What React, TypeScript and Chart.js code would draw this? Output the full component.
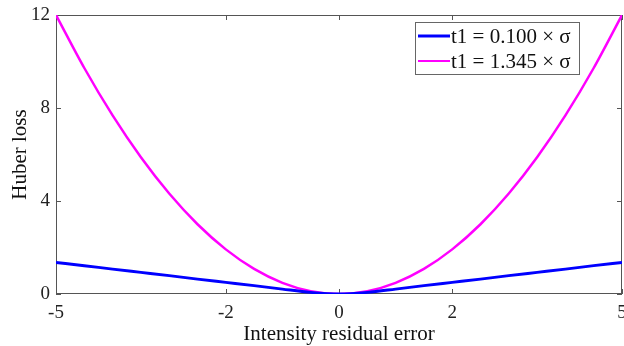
import React, { useEffect, useRef } from "react";
import { Chart, registerables } from "chart.js";

Chart.register(...registerables);

const residuals = [-5, -4.5, -4, -3.5, -3, -2.5, -2, -1.5, -1, -0.5, 0, 0.5, 1, 1.5, 2, 2.5, 3, 3.5, 4, 4.5, 5];
const lossSmall = [1.36, 1.22, 1.07, 0.93, 0.79, 0.64, 0.5, 0.36, 0.21, 0.07, 0, 0.07, 0.21, 0.36, 0.5, 0.64, 0.79, 0.93, 1.07, 1.22, 1.36];
const lossLarge = [12, 9.72, 7.68, 5.88, 4.32, 3.0, 1.92, 1.08, 0.48, 0.12, 0, 0.12, 0.48, 1.08, 1.92, 3.0, 4.32, 5.88, 7.68, 9.72, 12];
const xTicks = [-5, -2, 0, 2, 5];
const yTicks = [0, 4, 8, 12];
const seriesLabels = ["t1 = 0.100 × σ", "t1 = 1.345 × σ"];
const seriesColors = ["#0000ff", "#ff00ff"];

const FONT = "'Liberation Serif', 'Times New Roman', serif";

export default function App() {
  const ref = useRef<HTMLCanvasElement | null>(null);
  useEffect(() => {
    if (!ref.current) return;
    const framePlugin = {
      id: "frame",
      beforeDatasetsDraw(chart: any) {
        const { ctx, chartArea: a, scales } = chart;
        ctx.save();
        ctx.strokeStyle = "#555";
        ctx.lineWidth = 1;
        ctx.strokeRect(a.left + 0.5, a.top + 0.5, a.right - a.left - 1, a.bottom - a.top - 1);
        const L = 5;
        ctx.beginPath();
        for (const t of xTicks) {
          const px = Math.round(scales.x.getPixelForValue(t)) + 0.5;
          ctx.moveTo(px, a.bottom);
          ctx.lineTo(px, a.bottom - L);
          ctx.moveTo(px, a.top);
          ctx.lineTo(px, a.top + L);
        }
        for (const t of yTicks) {
          const py = Math.round(scales.y.getPixelForValue(t)) + 0.5;
          ctx.moveTo(a.left, py);
          ctx.lineTo(a.left + L, py);
          ctx.moveTo(a.right, py);
          ctx.lineTo(a.right - L, py);
        }
        ctx.stroke();
        ctx.restore();
      },
    };
    const legendPlugin = {
      id: "insideLegend",
      afterDraw(chart: any) {
        const { ctx, chartArea: a } = chart;
        ctx.save();
        const bx = a.right - 207, by = a.top + 7, bw = 164, bh = 52;
        ctx.fillStyle = "#fff";
        ctx.fillRect(bx, by, bw, bh);
        ctx.strokeStyle = "#666";
        ctx.lineWidth = 1;
        ctx.strokeRect(bx + 0.5, by + 0.5, bw, bh);
        ctx.font = `21px ${FONT}`;
        ctx.textBaseline = "middle";
        const widths = [3, 2];
        seriesLabels.forEach((lab, i) => {
          const y = by + 14 + i * 25;
          ctx.strokeStyle = seriesColors[i];
          ctx.lineWidth = widths[i];
          ctx.beginPath();
          ctx.moveTo(bx + 3, y);
          ctx.lineTo(bx + 35, y);
          ctx.stroke();
          ctx.fillStyle = "#111";
          ctx.fillText(lab, bx + 36, y + 1);
        });
        ctx.restore();
      },
    };
    const chart = new Chart(ref.current, {
      type: "line",
      data: {
        datasets: [
          {
            label: seriesLabels[0],
            data: residuals.map((x, i) => ({ x, y: lossSmall[i] })),
            borderColor: seriesColors[0],
            borderWidth: 3,
            pointRadius: 0,
            cubicInterpolationMode: "monotone",
          },
          {
            label: seriesLabels[1],
            data: residuals.map((x, i) => ({ x, y: lossLarge[i] })),
            borderColor: seriesColors[1],
            borderWidth: 2.5,
            pointRadius: 0,
            cubicInterpolationMode: "monotone",
          },
        ],
      },
      options: {
        animation: false,
        responsive: false,
        maintainAspectRatio: false,
        layout: { padding: { top: 15, right: 2, left: 0, bottom: 0 } },
        plugins: { legend: { display: false }, tooltip: { enabled: false } },
        scales: {
          x: {
            type: "linear",
            min: -5,
            max: 5,
            afterBuildTicks: (s: any) => {
              s.ticks = xTicks.map((v) => ({ value: v }));
            },
            afterFit: (s: any) => {
              s.height = 52;
              s.paddingLeft = 0;
              s.paddingRight = 0;
            },
            grid: { display: false, drawTicks: false },
            border: { display: false },
            ticks: {
              font: { family: FONT, size: 19 },
              color: "#222",
              padding: 8,
              maxRotation: 0,
              autoSkip: false,
            },
            title: {
              display: true,
              text: "Intensity residual error",
              font: { family: FONT, size: 21 },
              color: "#111",
              padding: { top: 0, bottom: -1 },
            },
          },
          y: {
            type: "linear",
            min: 0,
            max: 12,
            afterBuildTicks: (s: any) => {
              s.ticks = yTicks.map((v) => ({ value: v }));
            },
            afterFit: (s: any) => {
              s.width = 56;
              s.paddingTop = 0;
              s.paddingBottom = 0;
            },
            grid: { display: false, drawTicks: false },
            border: { display: false },
            ticks: {
              font: { family: FONT, size: 19 },
              color: "#222",
              padding: 6,
            },
            title: {
              display: true,
              text: "Huber loss",
              font: { family: FONT, size: 21 },
              color: "#111",
              padding: { top: 8, bottom: 0 },
            },
          },
        },
      },
      plugins: [framePlugin, legendPlugin],
    } as any);
    return () => chart.destroy();
  }, []);
  return (
    <div style={{ position: "absolute", left: 0, top: 0, width: 624, height: 346, background: "#fff" }}>
      <canvas ref={ref} width={624} height={346} style={{ width: 624, height: 346 }} />
    </div>
  );
}
